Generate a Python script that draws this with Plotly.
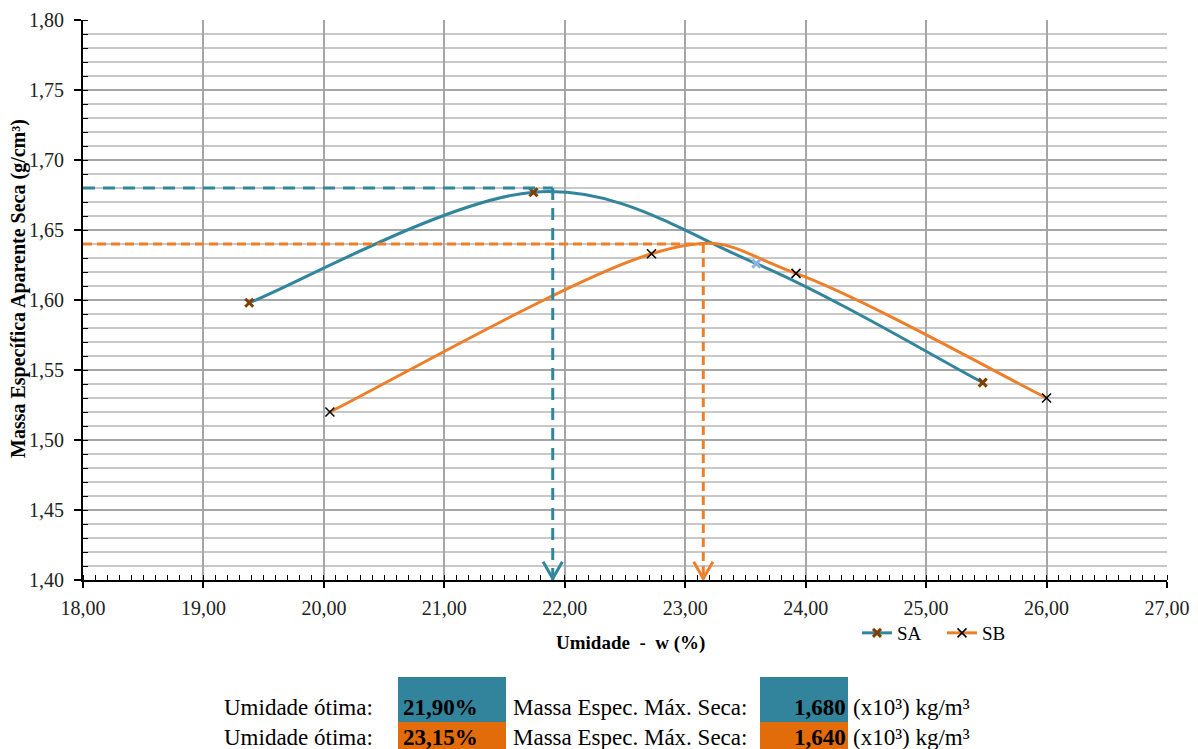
import plotly.graph_objects as go

# ---- data ----
sa_w = [19.38, 21.74, 23.59, 25.47]
sa_rho = [1.598, 1.677, 1.626, 1.541]
sb_w = [20.05, 22.72, 23.92, 26.00]
sb_rho = [1.520, 1.633, 1.619, 1.530]

opt_w = [21.90, 23.15]
opt_rho = [1.680, 1.640]
opt_w_labels = ["21,90%", "23,15%"]
opt_rho_labels = ["1,680", "1,640"]

x_range = [18, 27]
y_range = [1.40, 1.80]

TEAL = "#31859C"
ORANGE = "#EE7F2A"
BOX_TEAL = "#31849B"
BOX_ORANGE = "#E26B0A"
SA_MK = "#7F3F00"
SERIF = "Liberation Serif, Times New Roman, serif"


def smooth_path(xs, ys):
    """Excel-style smoothed line (Catmull-Rom as cubic Bezier) through the data points."""
    pts = list(zip(xs, ys))
    n = len(pts)
    path = f"M {pts[0][0]},{pts[0][1]}"
    for i in range(n - 1):
        p0 = pts[i - 1] if i > 0 else pts[i]
        p1 = pts[i]
        p2 = pts[i + 1]
        p3 = pts[i + 2] if i + 2 < n else pts[i + 1]
        c1 = (p1[0] + (p2[0] - p0[0]) / 6, p1[1] + (p2[1] - p0[1]) / 6)
        c2 = (p2[0] - (p3[0] - p1[0]) / 6, p2[1] - (p3[1] - p1[1]) / 6)
        path += f" C {c1[0]},{c1[1]} {c2[0]},{c2[1]} {p2[0]},{p2[1]}"
    return path


fig = go.Figure()

# legend entries
fig.add_trace(go.Scatter(
    x=[None], y=[None], name="SA", mode="lines+markers",
    line=dict(color=TEAL, width=3),
    marker=dict(symbol="x-thin", size=8, color=SA_MK, line=dict(width=3, color=SA_MK)),
))
fig.add_trace(go.Scatter(
    x=[None], y=[None], name="SB", mode="lines+markers",
    line=dict(color=ORANGE, width=3),
    marker=dict(symbol="x-thin", size=9, color="black", line=dict(width=1.5, color="black")),
))
# markers
sa_mk_colors = [SA_MK, SA_MK, "#8DB3E2", SA_MK]
fig.add_trace(go.Scatter(
    x=sa_w, y=sa_rho, name="SA", mode="markers", showlegend=False,
    marker=dict(symbol="x-thin", size=8, color=sa_mk_colors,
                line=dict(width=3, color=sa_mk_colors)),
))
fig.add_trace(go.Scatter(
    x=sb_w, y=sb_rho, name="SB", mode="markers", showlegend=False,
    marker=dict(symbol="x-thin", size=9, color="black",
                line=dict(width=1.5, color="black")),
))

shapes = []
# smoothed series lines
shapes.append(dict(type="path", xref="x", yref="y", path=smooth_path(sa_w, sa_rho),
                   line=dict(color=TEAL, width=3), layer="between"))
shapes.append(dict(type="path", xref="x", yref="y", path=smooth_path(sb_w, sb_rho),
                   line=dict(color=ORANGE, width=3), layer="between"))

dashes = ["12px,8px", "9px,5px"]
colors = [TEAL, ORANGE]
for w, r, c, d in zip(opt_w, opt_rho, colors, dashes):
    shapes.append(dict(type="line", xref="x", yref="y", x0=x_range[0], x1=w, y0=r, y1=r,
                       line=dict(color=c, width=3, dash=d), layer="above"))
    shapes.append(dict(type="line", xref="x", yref="y", x0=w, x1=w, y0=r, y1=y_range[0],
                       line=dict(color=c, width=3, dash=d), layer="above"))
    hw, hh = 0.08, 0.013
    shapes.append(dict(type="path", xref="x", yref="y",
                       path=f"M {w-hw},{y_range[0]+hh} L {w},{y_range[0]+0.001} L {w+hw},{y_range[0]+hh}",
                       line=dict(color=c, width=3), layer="above"))

# page has 8px body margin: figure is 1190x741 placed at (8,8)
def px2x(px):
    return (px - 83) / 1084
def py2y(py):
    return (580 - py) / 560

box_rows = [(677, 722), (722, 760)]
box_cols_fill = [BOX_TEAL, BOX_ORANGE]
for (t, b), fc in zip(box_rows, box_cols_fill):
    for (l, r) in [(398, 506), (760, 848)]:
        shapes.append(dict(type="rect", xref="paper", yref="paper",
                           x0=px2x(l), x1=px2x(r), y0=py2y(b), y1=py2y(t),
                           fillcolor=fc, line=dict(width=0), layer="below"))

annotations = []
row_y = [707, 737]
TFS = 23
for i in range(2):
    yy = py2y(row_y[i])
    annotations.append(dict(x=px2x(222), y=yy, xref="paper", yref="paper", xanchor="left",
                            yanchor="middle", showarrow=False, text="Umidade ótima:",
                            font=dict(family=SERIF, size=TFS, color="black")))
    annotations.append(dict(x=px2x(401), y=yy, xref="paper", yref="paper", xanchor="left",
                            yanchor="middle", showarrow=False, text=f"<b>{opt_w_labels[i]}</b>",
                            font=dict(family=SERIF, size=TFS, color="black")))
    annotations.append(dict(x=px2x(511), y=yy, xref="paper", yref="paper", xanchor="left",
                            yanchor="middle", showarrow=False, text="Massa Espec. Máx. Seca:",
                            font=dict(family=SERIF, size=TFS, color="black")))
    annotations.append(dict(x=px2x(848), y=yy, xref="paper", yref="paper", xanchor="right",
                            yanchor="middle", showarrow=False, text=f"<b>{opt_rho_labels[i]}</b>",
                            font=dict(family=SERIF, size=TFS, color="black")))
    annotations.append(dict(x=px2x(851), y=yy, xref="paper", yref="paper", xanchor="left",
                            yanchor="middle", showarrow=False, text="(x10³) kg/m³",
                            font=dict(family=SERIF, size=TFS, color="black")))

annotations.append(dict(x=px2x(18), y=py2y(289), xref="paper", yref="paper", xanchor="center",
                        yanchor="middle", showarrow=False, textangle=-90,
                        text="<b>Massa Específica Aparente Seca (g/cm³)</b>",
                        font=dict(family=SERIF, size=20, color="black")))
annotations.append(dict(x=px2x(630), y=py2y(643), xref="paper", yref="paper", xanchor="center",
                        yanchor="middle", showarrow=False,
                        text="<b>Umidade  -  w (%)</b>",
                        font=dict(family=SERIF, size=19, color="black")))

fig.update_layout(
    width=1190, height=741,
    margin=dict(l=75, r=31, t=12, b=169, autoexpand=False),
    paper_bgcolor="white", plot_bgcolor="white",
    separators=", ",
    showlegend=True,
    legend=dict(orientation="h", x=px2x(857), y=py2y(633), xanchor="left", yanchor="middle",
                font=dict(family=SERIF, size=19, color="black"),
                bgcolor="rgba(0,0,0,0)", entrywidth=40, itemwidth=30),
    shapes=shapes,
    annotations=annotations,
    xaxis=dict(range=x_range, dtick=1, tick0=18, tickformat=".2f", automargin=False,
               showgrid=True, gridcolor="#A6A6A6", gridwidth=1.5,
               showline=True, linecolor="black", linewidth=2,
               ticks="outside", ticklen=6, tickcolor="black", tickwidth=1.5,
               ticklabelstandoff=3,
               tickfont=dict(family=SERIF, size=20, color="#222"),
               zeroline=False,
               minor=dict(dtick=0.1, ticks="inside", ticklen=5, tickcolor="black", tickwidth=1,
                          showgrid=False)),
    yaxis=dict(range=y_range, dtick=0.05, tick0=1.40, tickformat=".2f", automargin=False,
               showgrid=True, gridcolor="#A6A6A6", gridwidth=1.5,
               showline=True, linecolor="black", linewidth=2,
               ticks="outside", ticklen=7, tickcolor="black", tickwidth=1.5,
               ticklabelstandoff=6,
               tickfont=dict(family=SERIF, size=20, color="#222"),
               zeroline=False,
               minor=dict(dtick=0.01, ticks="inside", ticklen=5, tickcolor="black", tickwidth=1,
                          showgrid=True, gridcolor="#C8C8C8", gridwidth=1.5)),
)

fig.write_html("out.html")
